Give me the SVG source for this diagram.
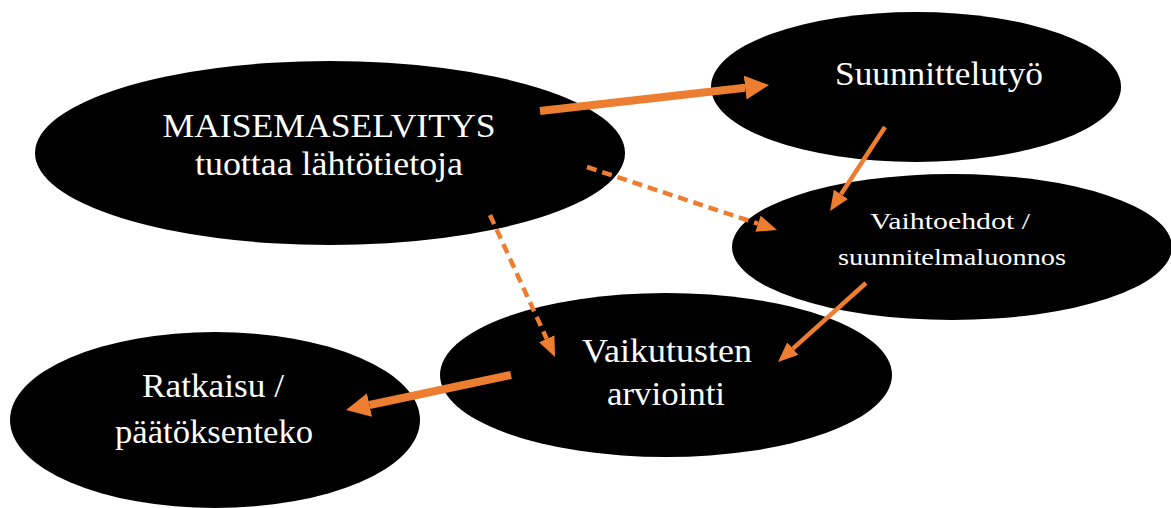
<svg xmlns="http://www.w3.org/2000/svg" width="1171" height="508" viewBox="0 0 1171 508">
  <style>
    .node { fill: #000000; }
    .label { fill: #ffffff; font-family: "Liberation Serif", "DejaVu Serif", serif; text-anchor: middle; }
    .big { font-size: 34px; }
    .small { font-size: 24px; }
    .thick { stroke: #ED7D31; stroke-width: 8; fill: none; }
    .thin { stroke: #ED7D31; stroke-width: 4.5; fill: none; }
    .dash { stroke: #ED7D31; stroke-width: 4.5; fill: none; stroke-dasharray: 10 6; }
  </style>
  <defs>
    <marker id="headThick" markerUnits="userSpaceOnUse" markerWidth="24" markerHeight="24" refX="0" refY="12" orient="auto">
      <path d="M0,0 L24,12 L0,24 Z" fill="#ED7D31"/>
    </marker>
    <marker id="headThin" markerUnits="userSpaceOnUse" markerWidth="20" markerHeight="17" refX="0" refY="8.5" orient="auto">
      <path d="M0,0 L20,8.5 L0,17 Z" fill="#ED7D31"/>
    </marker>
  </defs>

  <rect width="1171" height="508" fill="#ffffff"/>

  <g id="node-maisemaselvitys">
    <ellipse class="node" cx="330" cy="153" rx="295" ry="92"/>
    <text class="label big" x="329" y="137" textLength="333" lengthAdjust="spacingAndGlyphs">MAISEMASELVITYS</text>
    <text class="label big" x="329" y="175" textLength="268" lengthAdjust="spacingAndGlyphs">tuottaa lähtötietoja</text>
  </g>

  <g id="node-suunnittelutyo">
    <ellipse class="node" cx="916" cy="87" rx="205" ry="75"/>
    <text class="label big" x="939" y="85" textLength="208" lengthAdjust="spacingAndGlyphs">Suunnittelutyö</text>
  </g>

  <g id="node-vaihtoehdot">
    <ellipse class="node" cx="952" cy="247" rx="220" ry="73"/>
    <text class="label small" x="950" y="229" textLength="160" lengthAdjust="spacingAndGlyphs">Vaihtoehdot /</text>
    <text class="label small" x="952" y="265" textLength="228" lengthAdjust="spacingAndGlyphs">suunnitelmaluonnos</text>
  </g>

  <g id="node-vaikutusten-arviointi">
    <ellipse class="node" cx="666" cy="375" rx="226" ry="82"/>
    <text class="label big" x="667" y="362" textLength="170" lengthAdjust="spacingAndGlyphs">Vaikutusten</text>
    <text class="label big" x="666" y="405" textLength="118" lengthAdjust="spacingAndGlyphs">arviointi</text>
  </g>

  <g id="node-ratkaisu">
    <ellipse class="node" cx="215" cy="420" rx="205" ry="88"/>
    <text class="label big" x="213" y="397" textLength="142" lengthAdjust="spacingAndGlyphs">Ratkaisu /</text>
    <text class="label big" x="214" y="443" textLength="198" lengthAdjust="spacingAndGlyphs">päätöksenteko</text>
  </g>

  <g id="connectors">
    <line class="thick" x1="540" y1="111" x2="745.2" y2="87.7" marker-end="url(#headThick)"/>
    <line class="thin" x1="885" y1="127" x2="841" y2="194.3" marker-end="url(#headThin)"/>
    <line class="dash" x1="587" y1="167" x2="758" y2="223.7" marker-end="url(#headThin)"/>
    <line class="dash" x1="490" y1="215" x2="546.7" y2="338.8" marker-end="url(#headThin)"/>
    <line class="thin" x1="866" y1="283" x2="792.9" y2="348.6" marker-end="url(#headThin)"/>
    <line class="thick" x1="511" y1="375" x2="369.5" y2="405" marker-end="url(#headThick)"/>
  </g>
</svg>
